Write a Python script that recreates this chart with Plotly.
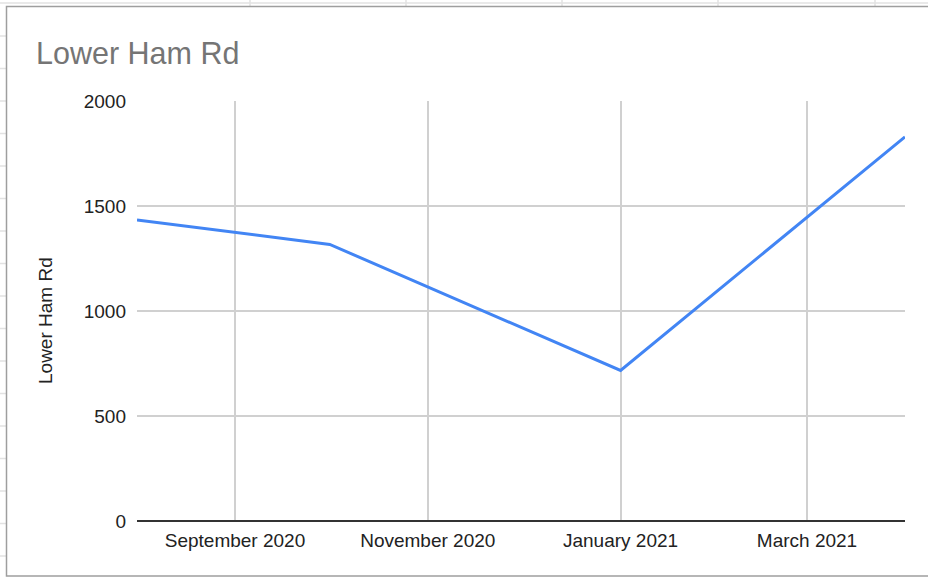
import plotly.graph_objects as go

# Data
dates = ["2020-08-01", "2020-10-01", "2021-01-01", "2021-04-01"]
values = [1433, 1317, 717, 1829]
series_name = "Lower Ham Rd"
chart_title = "Lower Ham Rd"
y_ticks = [0, 500, 1000, 1500, 2000]

W, H = 928, 578
L, R, T, B = 137, 905, 101, 521


def px(x):
    return (x - L) / (R - L)


def py(y):
    return (B - y) / (B - T)


FONT = "Arial, 'Liberation Sans', sans-serif"

fig = go.Figure()
fig.add_trace(go.Scatter(
    x=dates, y=values, mode="lines", name=series_name,
    line=dict(color="#4285f4", width=3),
    hoverinfo="x+y",
))

shapes = []
cell = "#e2e2e2"
# spreadsheet cell lines outside the chart
shapes.append(dict(type="line", xref="paper", yref="paper", x0=px(0), x1=px(W), y0=py(3), y1=py(3),
                   line=dict(color=cell, width=1.5), layer="below"))
for cx in [250, 406, 562, 718, 875]:
    shapes.append(dict(type="line", xref="paper", yref="paper", x0=px(cx), x1=px(cx), y0=py(0), y1=py(6),
                       line=dict(color=cell, width=1.5), layer="below"))
k = 0
while 36 + 32.5 * k < H:
    cy = 36 + 32.5 * k
    shapes.append(dict(type="line", xref="paper", yref="paper", x0=px(0), x1=px(6), y0=py(cy), y1=py(cy),
                       line=dict(color=cell, width=1.5), layer="below"))
    k += 1
# chart border
shapes.append(dict(type="rect", xref="paper", yref="paper", x0=px(6.5), x1=px(W + 5), y0=py(576), y1=py(6.5),
                   line=dict(color="#9e9e9e", width=1.5), fillcolor="rgba(0,0,0,0)", layer="below"))

fig.update_layout(
    width=W, height=H,
    margin=dict(l=L, r=W - R, t=T, b=H - B, pad=0),
    paper_bgcolor="white", plot_bgcolor="white",
    showlegend=False,
    font=dict(family=FONT, size=19, color="#222222"),
    title=dict(text=chart_title, xref="container", yref="container",
               x=36 / W, xanchor="left", y=1 - 53 / H, yanchor="middle",
               font=dict(family=FONT, size=30.5, color="#757575")),
    shapes=shapes,
    annotations=[dict(text=series_name, xref="paper", yref="paper", x=px(45), y=py(321),
                      textangle=-90, showarrow=False, xanchor="center", yanchor="middle",
                      font=dict(family=FONT, size=19, color="#222222"))],
    xaxis=dict(
        type="date", range=["2020-08-01", "2021-04-01"],
        tick0="2020-09-01", dtick="M2", tickformat="%B %Y",
        showgrid=True, gridcolor="#d0d0d0", gridwidth=1.5,
        showline=False, zeroline=False, ticks="", ticklabelstandoff=6,
        tickfont=dict(family=FONT, size=19, color="#222222"),
    ),
    yaxis=dict(
        range=[0, 2000], tickvals=y_ticks,
        showgrid=True, gridcolor="#d0d0d0", gridwidth=1.5,
        zeroline=True, zerolinecolor="#333333", zerolinewidth=1.5,
        showline=False, ticks="", ticklabelstandoff=10,
        tickfont=dict(family=FONT, size=19, color="#222222"),
    ),
)

fig.write_html("out.html", config={"displayModeBar": False},
               post_script="document.body.style.margin='0';document.body.style.padding='0';")
